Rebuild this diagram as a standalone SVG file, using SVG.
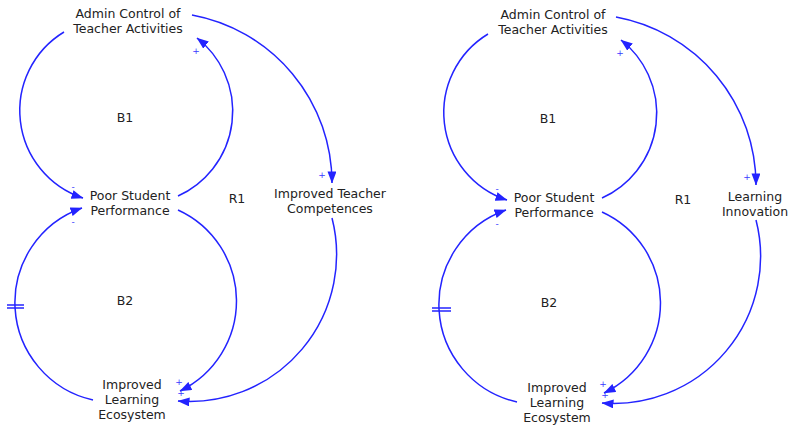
<svg xmlns="http://www.w3.org/2000/svg" width="792" height="428" viewBox="0 0 792 428">
  <style>
    .lbl { font-family: "DejaVu Sans", Verdana, sans-serif; font-size: 12.5px; fill: #222; text-anchor: middle; }
    .loop { font-family: "DejaVu Sans", Verdana, sans-serif; font-size: 12.5px; fill: #222; text-anchor: middle; }
    .pol { font-family: "DejaVu Sans", Verdana, sans-serif; font-size: 9px; fill: #3a3aff; text-anchor: middle; }
    .link { fill: none; stroke: #2323ff; stroke-width: 1.5; marker-end: url(#arrow); }
    .delay { stroke: #2323ff; stroke-width: 1.5; }
  </style>
  <defs>
    <marker id="arrow" markerUnits="userSpaceOnUse" viewBox="0 0 12 9" refX="11.5" refY="4.5" markerWidth="12" markerHeight="9" orient="auto">
      <path d="M0,0 L12,4.5 L0,9 z" fill="#2323ff"/>
    </marker>
  </defs>

  <!-- Model 1: teacher competences -->
  <g id="model-1">
    <g id="m1-links">
      <path class="link" d="M64,32 A92,92 0 0 0 83,198"/>
      <path class="link" d="M178,196 A93,93 0 0 0 197,38"/>
      <path class="link" d="M192,15 A171,171 0 0 1 332,183"/>
      <path class="link" d="M332,218 A147,147 0 0 1 178,401"/>
      <path class="link" d="M178,210 A100,100 0 0 1 180,391"/>
      <path class="link" d="M93,400 A100,100 0 0 1 82,208"/>
      <line class="delay" x1="7" y1="305" x2="24" y2="305"/>
      <line class="delay" x1="7" y1="308" x2="24" y2="308"/>
      <text class="pol" x="73" y="190">-</text>
      <text class="pol" x="73" y="225">-</text>
      <text class="pol" x="196" y="54">+</text>
      <text class="pol" x="322" y="178">+</text>
      <text class="pol" x="179" y="385">+</text>
      <text class="pol" x="181" y="396">+</text>
    </g>
    <g id="m1-admin-control">
      <text class="lbl" x="128" y="17.5">Admin Control of</text>
      <text class="lbl" x="128" y="32.5">Teacher Activities</text>
    </g>
    <g id="m1-poor-performance">
      <text class="lbl" x="130" y="200">Poor Student</text>
      <text class="lbl" x="130" y="215">Performance</text>
    </g>
    <g id="m1-teacher-competences">
      <text class="lbl" x="330" y="198">Improved Teacher</text>
      <text class="lbl" x="330" y="213">Competences</text>
    </g>
    <g id="m1-learning-ecosystem">
      <text class="lbl" x="132" y="389">Improved</text>
      <text class="lbl" x="132" y="404">Learning</text>
      <text class="lbl" x="132" y="419">Ecosystem</text>
    </g>
    <g id="m1-loops">
      <text class="loop" x="125" y="122">B1</text>
      <text class="loop" x="125" y="305">B2</text>
      <text class="loop" x="237" y="203">R1</text>
    </g>
  </g>

  <!-- Model 2: learning innovation -->
  <g id="model-2" transform="translate(424,2)">
    <g id="m2-links">
      <path class="link" d="M64,32 A92,92 0 0 0 83,198"/>
      <path class="link" d="M178,196 A93,93 0 0 0 197,38"/>
      <path class="link" d="M192,15 A171,171 0 0 1 332,183"/>
      <path class="link" d="M332,218 A147,147 0 0 1 178,401"/>
      <path class="link" d="M178,210 A100,100 0 0 1 180,391"/>
      <path class="link" d="M93,400 A100,100 0 0 1 82,208"/>
      <line class="delay" x1="8" y1="306" x2="27" y2="306"/>
      <line class="delay" x1="8" y1="309" x2="27" y2="309"/>
      <text class="pol" x="73" y="190">-</text>
      <text class="pol" x="73" y="225">-</text>
      <text class="pol" x="196" y="54">+</text>
      <text class="pol" x="323" y="178">+</text>
      <text class="pol" x="179" y="385">+</text>
      <text class="pol" x="181" y="396">+</text>
    </g>
    <g id="m2-admin-control">
      <text class="lbl" x="129" y="16.5">Admin Control of</text>
      <text class="lbl" x="129" y="31.5">Teacher Activities</text>
    </g>
    <g id="m2-poor-performance">
      <text class="lbl" x="130" y="200">Poor Student</text>
      <text class="lbl" x="130" y="215">Performance</text>
    </g>
    <g id="m2-learning-innovation">
      <text class="lbl" x="331" y="199">Learning</text>
      <text class="lbl" x="331" y="214">Innovation</text>
    </g>
    <g id="m2-learning-ecosystem">
      <text class="lbl" x="133" y="390">Improved</text>
      <text class="lbl" x="133" y="405">Learning</text>
      <text class="lbl" x="133" y="420">Ecosystem</text>
    </g>
    <g id="m2-loops">
      <text class="loop" x="124" y="121">B1</text>
      <text class="loop" x="125" y="305">B2</text>
      <text class="loop" x="259" y="202">R1</text>
    </g>
  </g>
</svg>
